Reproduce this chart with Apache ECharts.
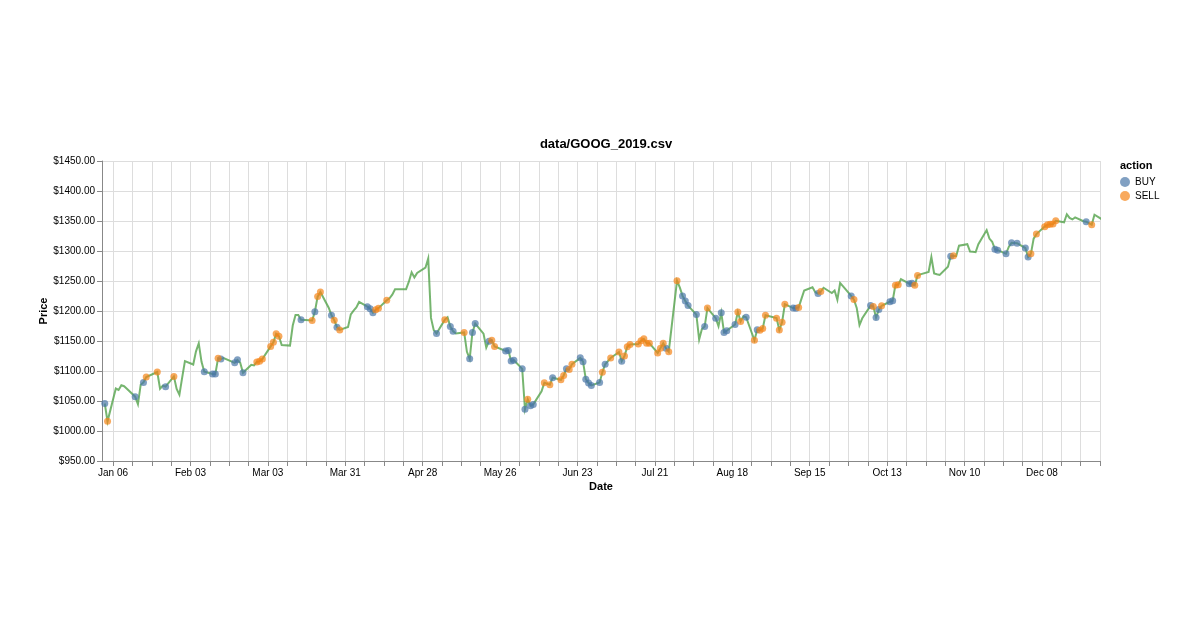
<!DOCTYPE html>
<html>
<head>
<meta charset="utf-8">
<script src="https://cdn.jsdelivr.net/npm/echarts@6/dist/echarts.min.js"></script>
<style>
  html, body { margin: 0; padding: 0; background: #fff; }
  #chart { width: 1200px; height: 630px; }
</style>
</head>
<body>
<div id="chart"></div>
<script>
  // rows of data/GOOG_2019.csv as plotted (MM-DD of 2019) and their price
  const dates = [
    '01-03','01-04','01-07','01-08','01-09','01-10','01-11','01-14','01-15','01-16','01-17','01-18','01-22','01-23','01-24','01-25','01-28','01-29','01-30','01-31',
    '02-01','02-04','02-05','02-06','02-07','02-08','02-11','02-12','02-13','02-14','02-15','02-19','02-20','02-21','02-22','02-25','02-26','02-27','02-28',
    '03-01','03-04','03-05','03-06','03-07','03-08','03-11','03-12','03-13','03-14','03-15','03-18','03-19','03-20','03-21','03-22','03-25','03-26','03-27','03-28','03-29',
    '04-01','04-02','04-03','04-04','04-05','04-08','04-09','04-10','04-11','04-12','04-15','04-16','04-17','04-18','04-22','04-23','04-24','04-25','04-26','04-29','04-30',
    '05-01','05-02','05-03','05-06','05-07','05-08','05-09','05-10','05-13','05-14','05-15','05-16','05-17','05-20','05-21','05-22','05-23','05-24','05-28','05-29','05-30','05-31',
    '06-03','06-04','06-05','06-06','06-07','06-10','06-11','06-12','06-13','06-14','06-17','06-18','06-19','06-20','06-21','06-24','06-25','06-26','06-27','06-28',
    '07-01','07-02','07-03','07-05','07-08','07-09','07-10','07-11','07-12','07-15','07-16','07-17','07-18','07-19','07-22','07-23','07-24','07-25','07-26','07-29','07-30','07-31',
    '08-01','08-02','08-05','08-06','08-07','08-08','08-09','08-12','08-13','08-14','08-15','08-16','08-19','08-20','08-21','08-22','08-23','08-26','08-27','08-28','08-29','08-30',
    '09-03','09-04','09-05','09-06','09-09','09-10','09-11','09-12','09-13','09-16','09-17','09-18','09-19','09-20','09-23','09-24','09-25','09-26','09-27','09-30',
    '10-01','10-02','10-03','10-04','10-07','10-08','10-09','10-10','10-11','10-14','10-15','10-16','10-17','10-18','10-21','10-22','10-23','10-24','10-25','10-28','10-29','10-30','10-31',
    '11-01','11-04','11-05','11-06','11-07','11-08','11-11','11-12','11-13','11-14','11-15','11-18','11-19','11-20','11-21','11-22','11-25','11-26','11-27','11-29',
    '12-02','12-03','12-04','12-05','12-06','12-09','12-10','12-11','12-12','12-13','12-16','12-17','12-18','12-19','12-20','12-23','12-24','12-26','12-27','12-30'
  ];
  const prices = [
    1045.85,1016.06,1070.71,1068.39,1076.28,1074.66,1070.33,1057.19,1044.69,1077.15,1080.97,1089.90,1098.26,1070.52,1075.57,1073.90,1090.99,1070.08,1060.62,1089.06,
    1116.37,1110.75,1132.80,1145.99,1115.23,1098.71,1095.06,1095.01,1121.37,1120.16,1121.67,1113.65,1118.56,1113.80,1096.97,1110.37,1109.40,1115.13,1116.05,
    1119.92,1140.99,1147.80,1162.03,1157.86,1143.30,1142.32,1175.76,1193.20,1193.32,1185.55,1184.46,1184.26,1198.85,1223.97,1231.54,1205.50,1193.00,1184.62,1173.02,1168.49,
    1173.31,1194.43,1200.49,1205.92,1215.00,1207.15,1203.84,1197.25,1202.16,1204.62,1217.87,1221.10,1227.13,1236.34,1236.37,1248.84,1264.55,1256.00,1263.45,1272.18,1287.58,
    1188.48,1168.08,1162.61,1185.40,1189.39,1174.10,1166.27,1162.38,1164.27,1132.03,1120.44,1164.21,1178.98,1162.30,1138.85,1149.63,1151.42,1140.77,1133.47,1134.15,1116.46,1117.95,
    1103.63,1036.23,1053.05,1042.22,1044.34,1066.04,1080.38,1078.72,1077.03,1088.77,1085.35,1092.50,1103.60,1102.33,1111.42,1121.88,1115.52,1086.35,1079.80,1076.01,
    1080.91,1097.95,1111.25,1121.58,1131.59,1116.35,1124.83,1140.48,1144.21,1144.90,1150.34,1153.58,1146.35,1146.33,1130.10,1138.07,1146.21,1137.81,1132.12,1250.41,1239.41,1225.14,
    1216.68,1209.01,1193.99,1152.32,1169.95,1173.99,1204.80,1188.01,1174.71,1197.27,1164.29,1167.26,1177.60,1198.45,1182.69,1191.25,1189.53,1151.29,1168.89,1167.84,1171.02,1192.85,
    1188.10,1168.39,1181.41,1211.38,1204.93,1204.41,1206.00,1220.17,1234.25,1239.56,1231.30,1229.15,1232.41,1238.71,1229.93,1234.03,1218.76,1246.52,1241.39,1225.09,
    1219.00,1205.10,1176.63,1187.83,1209.00,1207.68,1189.13,1202.31,1208.67,1215.45,1217.14,1243.01,1243.64,1253.07,1245.49,1246.15,1242.80,1259.13,1260.99,1265.13,1290.00,1262.62,1261.29,
    1260.11,1273.74,1291.37,1292.03,1291.80,1308.86,1311.37,1299.19,1298.80,1298.00,1311.46,1334.87,1320.70,1315.46,1303.05,1301.35,1295.34,1306.69,1313.55,1312.99,
    1304.96,1289.92,1295.28,1320.54,1328.13,1340.62,1343.56,1344.66,1345.02,1350.27,1347.83,1361.17,1355.12,1352.62,1356.04,1349.59,1348.84,1343.56,1360.40,1351.89
  ];
  const buyDates = [
    '01-03','01-14','01-17','01-25','02-08','02-11','02-12','02-14','02-19','02-20','02-22',
    '03-15','03-20','03-26','03-28','04-08','04-09','04-10','05-03','05-08','05-09','05-15','05-16','05-17',
    '05-22','05-28','05-29','05-30','05-31','06-03','06-04','06-06','06-07','06-14','06-19','06-24','06-25',
    '06-26','06-27','06-28','07-01','07-03','07-09','07-25','07-31','08-01','08-02','08-05','08-08','08-12',
    '08-14','08-15','08-16','08-19','08-23','08-27','09-09','09-10','09-18','09-30','10-07','10-09','10-10',
    '10-14','10-15','10-21','10-22','11-05','11-21','11-22','11-25','11-27','11-29','12-02','12-03','12-24'
  ];
  const sellDates = [
    '01-04','01-18','01-22','01-28','02-13','02-27','02-28','03-01','03-04','03-05','03-06','03-07',
    '03-19','03-21','03-22','03-27','03-29','04-11','04-12','04-15','05-06','05-13','05-23','05-24',
    '06-05','06-11','06-13','06-17','06-18','06-20','06-21','07-02','07-05','07-08','07-10','07-11','07-12',
    '07-15','07-16','07-17','07-18','07-19','07-22','07-23','07-24','07-26','07-29','08-09','08-20','08-21',
    '08-26','08-28','08-29','08-30','09-03','09-04','09-05','09-06','09-11','09-19','10-01','10-08','10-11',
    '10-16','10-17','10-23','10-24','11-06','12-04','12-06','12-09','12-10','12-11','12-12','12-13','12-26'
  ];
  const labelDates = ['01-06','02-03','03-03','03-31','04-28','05-26','06-23','07-21','08-18','09-15','10-13','11-10','12-08'];
  const yMin = 950, yMax = 1450, yStep = 50;

  const FONT = '"Liberation Sans", Arial, Helvetica, sans-serif';
  const MONTHS = ['Jan','Feb','Mar','Apr','May','Jun','Jul','Aug','Sep','Oct','Nov','Dec'];

  function toTime(md) {
    let p = md.split('-');
    return new Date(2019, +p[0] - 1, +p[1]).getTime();
  }

  let priceOf = {};
  dates.forEach((d, i) => { priceOf[d] = prices[i]; });

  // weekly ticks on sundays
  let weekTicks = [];
  for (let t = new Date(2019, 0, 6); t <= new Date(2019, 11, 29); t.setDate(t.getDate() + 7)) {
    weekTicks.push(t.getTime());
  }

  let chart = echarts.init(document.getElementById('chart'));
  chart.setOption({
    animation: false,
    textStyle: { fontFamily: FONT },
    title: {
      text: 'data/GOOG_2019.csv',
      left: 601,
      textAlign: 'center',
      top: 133,
      textStyle: { fontSize: 13, fontWeight: 'bold', color: '#000', fontFamily: FONT }
    },
    graphic: [{
      type: 'text',
      left: 1120,
      top: 160,
      style: { text: 'action', font: 'bold 11px ' + FONT, fill: '#000' }
    }],
    legend: {
      data: ['BUY', 'SELL'],
      orient: 'vertical',
      left: 1120,
      top: 177,
      padding: 0,
      itemWidth: 10,
      itemHeight: 10,
      itemGap: 4,
      icon: 'circle',
      textStyle: { fontSize: 10, color: '#000', fontFamily: FONT }
    },
    grid: { left: 102, right: 100, top: 161, bottom: 169 },
    xAxis: {
      type: 'value',
      min: toTime('01-02'),
      max: toTime('12-29'),
      name: 'Date',
      nameLocation: 'middle',
      nameGap: 20,
      nameMoveOverlap: false,
      nameTextStyle: { fontWeight: 'bold', fontSize: 11, color: '#000', fontFamily: FONT },
      axisLine: { show: true, onZero: false, lineStyle: { color: '#888', width: 1 } },
      axisTick: { show: true, customValues: weekTicks, length: 5, lineStyle: { color: '#888' } },
      axisLabel: {
        customValues: labelDates.map(toTime),
        fontSize: 10,
        color: '#000',
        margin: 7,
        fontFamily: FONT,
        formatter: function (val) {
          let d = new Date(val);
          return MONTHS[d.getMonth()] + ' ' + String(d.getDate()).padStart(2, '0');
        }
      },
      splitLine: { show: true, lineStyle: { color: '#ddd', width: 1 } }
    },
    yAxis: {
      type: 'value',
      min: yMin,
      max: yMax,
      interval: yStep,
      name: 'Price',
      nameLocation: 'middle',
      nameGap: 53,
      nameMoveOverlap: false,
      nameTextStyle: { fontWeight: 'bold', fontSize: 11, color: '#000', fontFamily: FONT },
      axisLine: { show: true, lineStyle: { color: '#888', width: 1 } },
      axisTick: { show: true, length: 5, lineStyle: { color: '#888' } },
      axisLabel: {
        fontSize: 10,
        color: '#000',
        margin: 7,
        fontFamily: FONT,
        formatter: v => '$' + v.toFixed(2)
      },
      splitLine: { show: true, lineStyle: { color: '#ddd', width: 1 } }
    },
    series: [{
      name: 'price',
      type: 'line',
      data: dates.map((d, i) => [toTime(d), prices[i]]),
      showSymbol: false,
      clip: false,
      lineStyle: { color: '#54a24b', width: 2, opacity: 0.8, join: 'miter' },
      z: 2
    }, {
      name: 'BUY',
      type: 'scatter',
      data: buyDates.map(d => [toTime(d), priceOf[d]]),
      symbol: 'circle',
      symbolSize: 7,
      itemStyle: { color: '#4c78a8', opacity: 0.7 },
      z: 3
    }, {
      name: 'SELL',
      type: 'scatter',
      data: sellDates.map(d => [toTime(d), priceOf[d]]),
      symbol: 'circle',
      symbolSize: 7,
      itemStyle: { color: '#f58518', opacity: 0.7 },
      z: 3
    }]
  });
</script>
</body>
</html>
